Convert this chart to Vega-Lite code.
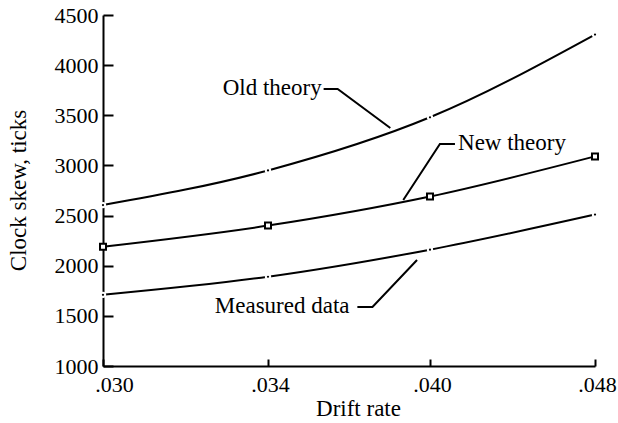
{
  "$schema": "https://vega.github.io/schema/vega-lite/v6.json",
  "width": 492,
  "height": 351,
  "autosize": {"type": "none"},
  "padding": {"left": 103, "top": 15, "right": 23, "bottom": 57},
  "background": "white",
  "config": {"view": {"stroke": null}, "font": "Liberation Serif"},
  "datasets": {
    "series": [
      {"series": "Old theory", "rate": 0.030, "value": 2605},
      {"series": "Old theory", "rate": 0.034, "value": 2950},
      {"series": "Old theory", "rate": 0.040, "value": 3480},
      {"series": "Old theory", "rate": 0.048, "value": 4305},
      {"series": "New theory", "rate": 0.030, "value": 2190},
      {"series": "New theory", "rate": 0.034, "value": 2400},
      {"series": "New theory", "rate": 0.040, "value": 2690},
      {"series": "New theory", "rate": 0.048, "value": 3090},
      {"series": "Measured data", "rate": 0.030, "value": 1710},
      {"series": "Measured data", "rate": 0.034, "value": 1890},
      {"series": "Measured data", "rate": 0.040, "value": 2160},
      {"series": "Measured data", "rate": 0.048, "value": 2510}
    ],
    "leaders": [
      {"label": "Old theory", "step": 1, "rate": 0.03606, "value": 3762},
      {"label": "Old theory", "step": 2, "rate": 0.03658, "value": 3762},
      {"label": "Old theory", "step": 3, "rate": 0.03853, "value": 3373},
      {"label": "New theory", "step": 1, "rate": 0.04121, "value": 3213},
      {"label": "New theory", "step": 2, "rate": 0.04048, "value": 3213},
      {"label": "New theory", "step": 3, "rate": 0.03901, "value": 2655},
      {"label": "Measured data", "step": 1, "rate": 0.03731, "value": 1588},
      {"label": "Measured data", "step": 2, "rate": 0.03787, "value": 1588},
      {"label": "Measured data", "step": 3, "rate": 0.03952, "value": 2057}
    ],
    "labels": [
      {"label": "Old theory", "side": "right", "rate": 0.03599, "value": 3772},
      {"label": "New theory", "side": "left", "rate": 0.04136, "value": 3223},
      {"label": "Measured data", "side": "right", "rate": 0.03702, "value": 1598}
    ]
  },
  "encoding": {
    "x": {
      "field": "rate",
      "type": "quantitative",
      "scale": {"domain": [0.030, 0.034, 0.040, 0.048], "range": [0, 165, 327, 492], "nice": false, "zero": false},
      "axis": {
        "values": [0.030, 0.034, 0.040, 0.048],
        "labelExpr": "substring(format(datum.value, '.3f'), 1)",
        "grid": false,
        "tickSize": -7,
        "tickWidth": 2,
        "tickColor": "black",
        "domainWidth": 2,
        "domainColor": "black",
        "labelColor": "black",
        "labelFontSize": 22,
        "labelPadding": 15,
        "labelFlush": false,
        "labelOffset": {"condition": {"test": "datum.value < 0.031", "value": 11}, "value": 2},
        "title": "Drift rate",
        "titleFontSize": 23,
        "titleFontWeight": "normal",
        "titleColor": "black",
        "titleX": 255,
        "titleY": 42,
        "titleBaseline": "middle",
        "titleAlign": "center"
      }
    },
    "y": {
      "field": "value",
      "type": "quantitative",
      "scale": {"domain": [1000, 4500], "nice": false, "zero": false},
      "axis": {
        "values": [1000, 1500, 2000, 2500, 3000, 3500, 4000, 4500],
        "format": "d",
        "grid": false,
        "tickSize": -10,
        "tickWidth": 2,
        "tickColor": "black",
        "domainWidth": 2,
        "domainColor": "black",
        "labelColor": "black",
        "labelFontSize": 22,
        "labelPadding": 15,
        "labelFlush": false,
        "title": "Clock skew, ticks",
        "titleFontSize": 23,
        "titleFontWeight": "normal",
        "titleColor": "black",
        "titleX": -85,
        "titleY": 175,
        "titleAngle": -90,
        "titleAlign": "center",
        "titleBaseline": "middle"
      }
    }
  },
  "layer": [
    {
      "data": {"name": "series"},
      "mark": {"type": "line", "interpolate": "monotone", "color": "black", "strokeWidth": 2},
      "encoding": {"detail": {"field": "series"}}
    },
    {
      "data": {"name": "leaders"},
      "mark": {"type": "line", "color": "black", "strokeWidth": 2},
      "encoding": {"detail": {"field": "label"}, "order": {"field": "step"}}
    },
    {
      "data": {"name": "series"},
      "transform": [{"filter": "datum.series != 'New theory'"}],
      "mark": {"type": "point", "shape": "circle", "filled": true, "color": "white", "opacity": 1, "size": 40}
    },
    {
      "data": {"name": "series"},
      "transform": [{"filter": "datum.series != 'New theory'"}],
      "mark": {"type": "point", "shape": "circle", "filled": true, "color": "black", "opacity": 1, "size": 5}
    },
    {
      "data": {"name": "series"},
      "transform": [{"filter": "datum.series == 'New theory'"}],
      "mark": {"type": "point", "shape": "square", "filled": false, "fill": "white", "fillOpacity": 1, "stroke": "black", "strokeWidth": 2, "opacity": 1, "size": 36}
    },
    {
      "data": {"name": "labels"},
      "transform": [{"filter": "datum.side == 'right'"}],
      "mark": {"type": "text", "align": "right", "baseline": "middle", "fontSize": 23, "color": "black", "font": "Liberation Serif"},
      "encoding": {"text": {"field": "label"}}
    },
    {
      "data": {"name": "labels"},
      "transform": [{"filter": "datum.side == 'left'"}],
      "mark": {"type": "text", "align": "left", "baseline": "middle", "fontSize": 23, "color": "black", "font": "Liberation Serif"},
      "encoding": {"text": {"field": "label"}}
    }
  ]
}
